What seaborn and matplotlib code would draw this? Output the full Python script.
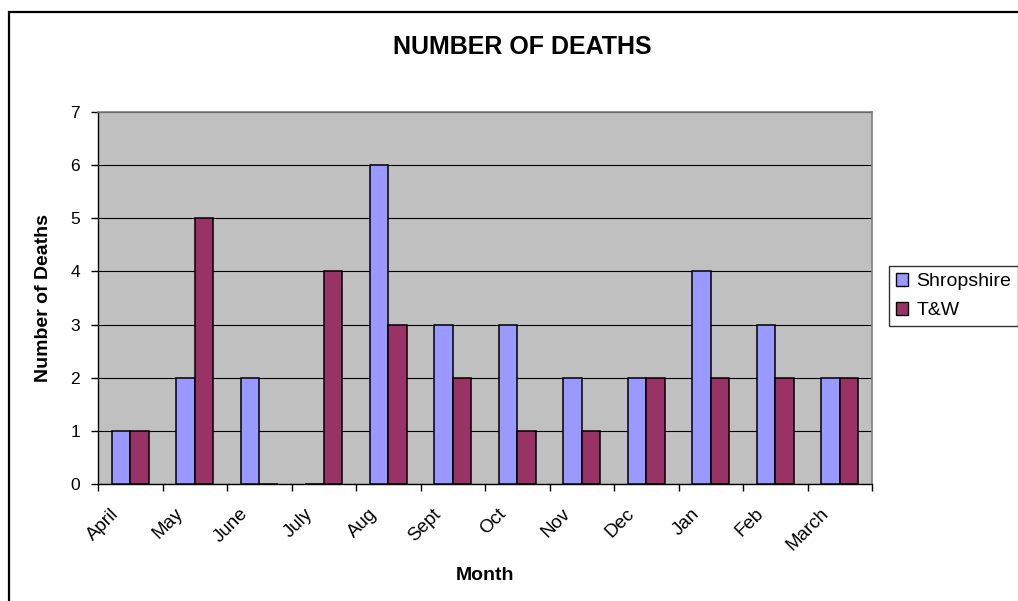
import matplotlib
matplotlib.use("Agg")
import matplotlib.pyplot as plt
import matplotlib.transforms as mtransforms
import seaborn as sns
import pandas as pd
import numpy as np
from matplotlib.patches import Rectangle, Patch

months = ["April", "May", "June", "July", "Aug", "Sept", "Oct", "Nov", "Dec", "Jan", "Feb", "March"]
shropshire = [1, 2, 2, 0, 6, 3, 3, 2, 2, 4, 3, 2]
tw = [1, 5, 0, 4, 3, 2, 1, 1, 2, 2, 2, 2]
series = ["Shropshire", "T&W"]
colors = ["#9999FF", "#993366"]
yticks = [0, 1, 2, 3, 4, 5, 6, 7]

df = pd.DataFrame({
    "Month": months * 2,
    "Region": [series[0]] * len(months) + [series[1]] * len(months),
    "Deaths": shropshire + tw,
})

sns.set_style("white")
plt.rcParams["font.family"] = ["Liberation Sans", "DejaVu Sans"]
for k in ["text.color", "axes.labelcolor", "xtick.color", "ytick.color"]:
    plt.rcParams[k] = "black"

W, H = 1018, 601
fig = plt.figure(figsize=(W / 100, H / 100), dpi=100)
fig.patch.set_facecolor("white")

# outer chart frame (extends beyond right/bottom edge)
fig.patches.append(Rectangle((9 / W, -0.1), 1.2, (1 - 12 / H) + 0.1,
                             transform=fig.transFigure, fill=False,
                             edgecolor="black", linewidth=1.6, zorder=0))

L, R, T, B = 98, 872, 112, 484
ax = fig.add_axes([L / W, 1 - B / H, (R - L) / W, (B - T) / H])
ax.set_facecolor("#C0C0C0")

sns.barplot(data=df, x="Month", y="Deaths", hue="Region", order=months,
            hue_order=series, palette=colors, saturation=1, width=2 / 3.5,
            edgecolor="black", linewidth=1.1, ax=ax, legend=False, zorder=3)

ax.set_ylim(0, 7)
ax.set_xlim(-0.5, len(months) - 0.5)
ax.set_yticks(yticks)
ax.set_yticklabels([str(v) for v in yticks], fontsize=12.5)
ax.yaxis.grid(True, color="black", linewidth=0.8, zorder=1)
ax.set_axisbelow(True)

# x ticks at category boundaries, labels at centers
ax.set_xticks(np.arange(-0.5, len(months), 1.0))
ax.set_xticklabels([])
ax.set_xticks(np.arange(len(months)), minor=True)
ax.set_xticklabels(months, minor=True, rotation=45, ha="right", va="center",
                   rotation_mode="anchor", fontsize=13.5)
ax.tick_params(axis="x", which="minor", length=0, pad=14)
ax.tick_params(axis="x", which="major", direction="out", length=5, width=1, color="black", bottom=True)
ax.tick_params(axis="y", direction="out", length=5, width=1, color="black", left=True, pad=8)
shift = mtransforms.ScaledTranslation(-14 / 100, -8 / 100, fig.dpi_scale_trans)
for lbl in ax.get_xticklabels(minor=True):
    lbl.set_transform(lbl.get_transform() + shift)

for side in ["top", "right"]:
    ax.spines[side].set_color("#808080")
    ax.spines[side].set_linewidth(1.2)
for side in ["left", "bottom"]:
    ax.spines[side].set_color("black")
    ax.spines[side].set_linewidth(1.0)

ax.set_ylabel("Number of Deaths", fontsize=14, fontweight="bold")
ax.yaxis.set_label_coords((52 - L) / (R - L), 0.5)
ax.set_xlabel("Month", fontsize=14, fontweight="bold")
ax.xaxis.set_label_coords(0.5, -(567 - B) / (B - T))

fig.text(522 / W, 1 - 47 / H, "NUMBER OF DEATHS", ha="center", va="center",
         fontsize=18, fontweight="bold")

handles = [Patch(facecolor=c, edgecolor="black", linewidth=1.0) for c in colors]
leg = fig.legend(handles, series, loc="upper left",
                 bbox_to_anchor=(889 / W, 1 - 266 / H), bbox_transform=fig.transFigure,
                 fontsize=14, frameon=True, fancybox=False, edgecolor="black",
                 handlelength=0.65, handleheight=0.65, handletextpad=0.4,
                 labelspacing=0.6, borderpad=0.35, borderaxespad=0)
leg.get_frame().set_linewidth(1.0)

fig.savefig("out.png", dpi=100)
